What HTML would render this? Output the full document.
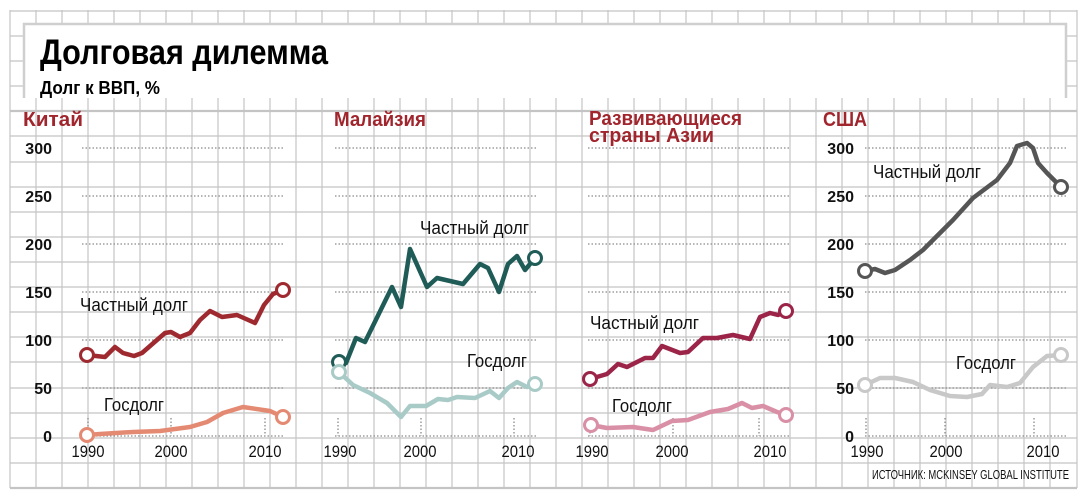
<!DOCTYPE html>
<html><head><meta charset="utf-8"><style>
html,body{margin:0;padding:0;background:#fff;}
svg{display:block;font-family:"Liberation Sans",sans-serif;}
</style></head><body>
<svg width="1086" height="500" viewBox="0 0 1086 500" xmlns="http://www.w3.org/2000/svg">
<rect width="1086" height="500" fill="#fff"/>
<g stroke="#c4c4c4" stroke-width="1.2">
<line x1="10" y1="10" x2="10" y2="488"/><line x1="36" y1="10" x2="36" y2="488"/><line x1="62" y1="10" x2="62" y2="488"/><line x1="88" y1="10" x2="88" y2="488"/><line x1="114" y1="10" x2="114" y2="488"/><line x1="140" y1="10" x2="140" y2="488"/><line x1="166" y1="10" x2="166" y2="488"/><line x1="192" y1="10" x2="192" y2="488"/><line x1="218" y1="10" x2="218" y2="488"/><line x1="244" y1="10" x2="244" y2="488"/><line x1="270" y1="10" x2="270" y2="488"/><line x1="296" y1="10" x2="296" y2="488"/><line x1="322" y1="10" x2="322" y2="488"/><line x1="348" y1="10" x2="348" y2="488"/><line x1="374" y1="10" x2="374" y2="488"/><line x1="400" y1="10" x2="400" y2="488"/><line x1="426" y1="10" x2="426" y2="488"/><line x1="452" y1="10" x2="452" y2="488"/><line x1="478" y1="10" x2="478" y2="488"/><line x1="504" y1="10" x2="504" y2="488"/><line x1="530" y1="10" x2="530" y2="488"/><line x1="556" y1="10" x2="556" y2="488"/><line x1="582" y1="10" x2="582" y2="488"/><line x1="608" y1="10" x2="608" y2="488"/><line x1="634" y1="10" x2="634" y2="488"/><line x1="660" y1="10" x2="660" y2="488"/><line x1="686" y1="10" x2="686" y2="488"/><line x1="712" y1="10" x2="712" y2="488"/><line x1="738" y1="10" x2="738" y2="488"/><line x1="764" y1="10" x2="764" y2="488"/><line x1="790" y1="10" x2="790" y2="488"/><line x1="816" y1="10" x2="816" y2="488"/><line x1="842" y1="10" x2="842" y2="488"/><line x1="868" y1="10" x2="868" y2="488"/><line x1="894" y1="10" x2="894" y2="488"/><line x1="920" y1="10" x2="920" y2="488"/><line x1="946" y1="10" x2="946" y2="488"/><line x1="972" y1="10" x2="972" y2="488"/><line x1="998" y1="10" x2="998" y2="488"/><line x1="1024" y1="10" x2="1024" y2="488"/><line x1="1050" y1="10" x2="1050" y2="488"/><line x1="1077" y1="10" x2="1077" y2="488"/>
<line x1="10" y1="11" x2="1077" y2="11"/><line x1="10" y1="36" x2="1077" y2="36"/><line x1="10" y1="61" x2="1077" y2="61"/><line x1="10" y1="86" x2="1077" y2="86"/>
<line x1="10" y1="111" x2="1077" y2="111" stroke-width="2.2"/><line x1="10" y1="136" x2="1077" y2="136"/><line x1="10" y1="162" x2="1077" y2="162"/><line x1="10" y1="187" x2="1077" y2="187"/><line x1="10" y1="212" x2="1077" y2="212"/><line x1="10" y1="237" x2="1077" y2="237"/><line x1="10" y1="262" x2="1077" y2="262"/><line x1="10" y1="287" x2="1077" y2="287"/><line x1="10" y1="312" x2="1077" y2="312"/><line x1="10" y1="337" x2="1077" y2="337"/><line x1="10" y1="362" x2="1077" y2="362"/><line x1="10" y1="388" x2="1077" y2="388"/><line x1="10" y1="413" x2="1077" y2="413"/><line x1="10" y1="438" x2="1077" y2="438"/><line x1="10" y1="463" x2="1077" y2="463"/>
<line x1="10" y1="488" x2="1077" y2="488" stroke-width="2.2"/>
</g>
<rect x="23" y="24" width="1043" height="74" fill="#fff"/>
<path d="M24 98 V24 H1066 V98" fill="none" stroke="#cfcfcf" stroke-width="2.5"/>
<text x="40" y="64" font-size="35" font-weight="bold" textLength="288" lengthAdjust="spacingAndGlyphs">Долговая дилемма</text>
<text x="40" y="94" font-size="18" font-weight="bold" textLength="120" lengthAdjust="spacingAndGlyphs">Долг к ВВП, %</text>

<g fill="#a1252d" font-weight="bold" font-size="20">
<text x="23" y="126" textLength="60" lengthAdjust="spacingAndGlyphs">Китай</text>
<text x="334" y="126" textLength="92" lengthAdjust="spacingAndGlyphs">Малайзия</text>
<text x="589" y="125" textLength="153" lengthAdjust="spacingAndGlyphs">Развивающиеся</text>
<text x="589" y="142" textLength="125" lengthAdjust="spacingAndGlyphs">страны Азии</text>
<text x="823" y="126" textLength="44" lengthAdjust="spacingAndGlyphs">США</text>
</g>

<g font-size="16" font-weight="bold" text-anchor="end" fill="#111">
<text x="52" y="154">300</text><text x="52" y="202">250</text><text x="52" y="250">200</text><text x="52" y="298">150</text><text x="52" y="346">100</text><text x="52" y="394">50</text><text x="52" y="442">0</text>
<text x="854" y="154">300</text><text x="854" y="202">250</text><text x="854" y="250">200</text><text x="854" y="298">150</text><text x="854" y="346">100</text><text x="854" y="394">50</text><text x="854" y="442">0</text>
</g>

<g stroke="#8a8a8a" stroke-width="1.3" stroke-dasharray="1.5,2">
<g id="dl">
<line x1="82" y1="148" x2="285" y2="148"/><line x1="82" y1="196" x2="285" y2="196"/><line x1="82" y1="244" x2="285" y2="244"/><line x1="82" y1="292" x2="285" y2="292"/><line x1="82" y1="340" x2="285" y2="340"/><line x1="82" y1="388" x2="285" y2="388"/><line x1="82" y1="436" x2="285" y2="436"/>
</g>
<use href="#dl" x="253"/><use href="#dl" x="506"/><use href="#dl" x="783"/>
<line x1="88" y1="418" x2="88" y2="436"/><line x1="171" y1="418" x2="171" y2="436"/><line x1="265" y1="418" x2="265" y2="436"/>
<line x1="338" y1="418" x2="338" y2="436"/><line x1="421" y1="418" x2="421" y2="436"/><line x1="514" y1="418" x2="514" y2="436"/>
<line x1="590" y1="418" x2="590" y2="436"/><line x1="673" y1="418" x2="673" y2="436"/><line x1="759" y1="418" x2="759" y2="436"/>
<line x1="866" y1="418" x2="866" y2="436"/><line x1="945" y1="418" x2="945" y2="436"/><line x1="1034" y1="418" x2="1034" y2="436"/>
</g>

<g font-size="17" fill="#111" text-anchor="middle">
<text x="88" y="457" textLength="33" lengthAdjust="spacingAndGlyphs">1990</text><text x="171" y="457" textLength="33" lengthAdjust="spacingAndGlyphs">2000</text><text x="265" y="457" textLength="33" lengthAdjust="spacingAndGlyphs">2010</text>
<text x="340" y="457" textLength="33" lengthAdjust="spacingAndGlyphs">1990</text><text x="420" y="457" textLength="33" lengthAdjust="spacingAndGlyphs">2000</text><text x="518" y="457" textLength="33" lengthAdjust="spacingAndGlyphs">2010</text>
<text x="592" y="457" textLength="33" lengthAdjust="spacingAndGlyphs">1990</text><text x="672" y="457" textLength="33" lengthAdjust="spacingAndGlyphs">2000</text><text x="770" y="457" textLength="33" lengthAdjust="spacingAndGlyphs">2010</text>
<text x="867" y="457" textLength="33" lengthAdjust="spacingAndGlyphs">1990</text><text x="946" y="457" textLength="33" lengthAdjust="spacingAndGlyphs">2000</text><text x="1043" y="457" textLength="33" lengthAdjust="spacingAndGlyphs">2010</text>
</g>

<g fill="none" stroke-width="4.5" stroke-linejoin="round" stroke-linecap="round">
<polyline stroke="#e58a72" points="87,435 100,434 133,432 160,431 190,427 207,422 223,413 243,407 270,411 283,417"/>
<polyline stroke="#9e2a2f" points="87,355 105,357 115,347 123,353 134,356 142,353 165,333 171,332 180,337 190,333 200,320 210,311 222,317 237,315 255,323 264,305 273,294 283,290"/>
<polyline stroke="#a9cbc8" points="339,372 353,385 370,393 387,403 401,417 410,406 426,406 438,399 448,400 457,397 475,398 490,391 499,398 508,388 517,382 527,387 535,384"/>
<polyline stroke="#1f5b57" points="339,362 346,363 356,338 365,342 392,287 401,307 410,249 427,287 437,278 463,284 480,264 488,268 499,292 508,264 517,256 525,270 535,258"/>
<polyline stroke="#d98fa5" points="591,425 607,428 633,427 653,430 672,421 688,420 710,412 728,409 742,403 752,408 763,406 777,412 786,415"/>
<polyline stroke="#9b2448" points="590,379 607,374 618,364 627,367 645,358 653,358 662,346 680,353 688,352 703,338 717,338 733,335 750,339 760,317 770,313 778,315 786,311"/>
<polyline stroke="#c8c8c8" points="865,385 880,378 895,378 913,382 930,390 950,396 967,397 982,394 990,385 1007,387 1020,383 1033,367 1047,356 1061,355"/>
<polyline stroke="#555" points="865,271 875,269 885,273 895,270 910,260 923,250 937,236 953,220 973,198 997,180 1010,163 1017,146 1027,143 1033,148 1038,163 1047,173 1061,187"/>
</g>
<g fill="#fff" stroke-width="3">
<circle cx="87" cy="435" r="6.5" stroke="#e58a72"/><circle cx="283" cy="417" r="6.5" stroke="#e58a72"/>
<circle cx="87" cy="355" r="6.5" stroke="#9e2a2f"/><circle cx="283" cy="290" r="6.5" stroke="#9e2a2f"/>
<circle cx="339" cy="362" r="6.5" stroke="#1f5b57"/><circle cx="535" cy="258" r="6.5" stroke="#1f5b57"/>
<circle cx="339" cy="372" r="6.5" stroke="#a9cbc8"/><circle cx="535" cy="384" r="6.5" stroke="#a9cbc8"/>
<circle cx="591" cy="425" r="6.5" stroke="#d98fa5"/><circle cx="786" cy="415" r="6.5" stroke="#d98fa5"/>
<circle cx="590" cy="379" r="6.5" stroke="#9b2448"/><circle cx="786" cy="311" r="6.5" stroke="#9b2448"/>
<circle cx="865" cy="385" r="6.5" stroke="#c8c8c8"/><circle cx="1061" cy="355" r="6.5" stroke="#c8c8c8"/>
<circle cx="865" cy="271" r="6.5" stroke="#555"/><circle cx="1061" cy="187" r="6.5" stroke="#555"/>
</g>

<g font-size="18" fill="#111">
<text x="80" y="311" textLength="108" lengthAdjust="spacingAndGlyphs">Частный долг</text>
<text x="104" y="411" textLength="60" lengthAdjust="spacingAndGlyphs">Госдолг</text>
<text x="420" y="234" textLength="109" lengthAdjust="spacingAndGlyphs">Частный долг</text>
<text x="467" y="367" textLength="60" lengthAdjust="spacingAndGlyphs">Госдолг</text>
<text x="590" y="329" textLength="109" lengthAdjust="spacingAndGlyphs">Частный долг</text>
<text x="612" y="412" textLength="60" lengthAdjust="spacingAndGlyphs">Госдолг</text>
<text x="873" y="178" textLength="108" lengthAdjust="spacingAndGlyphs">Частный долг</text>
<text x="956" y="369" textLength="60" lengthAdjust="spacingAndGlyphs">Госдолг</text>
</g>
<text x="872" y="479" font-size="13" fill="#111" textLength="197" lengthAdjust="spacingAndGlyphs">ИСТОЧНИК: MCKINSEY GLOBAL INSTITUTE</text>
</svg>
</body></html>
